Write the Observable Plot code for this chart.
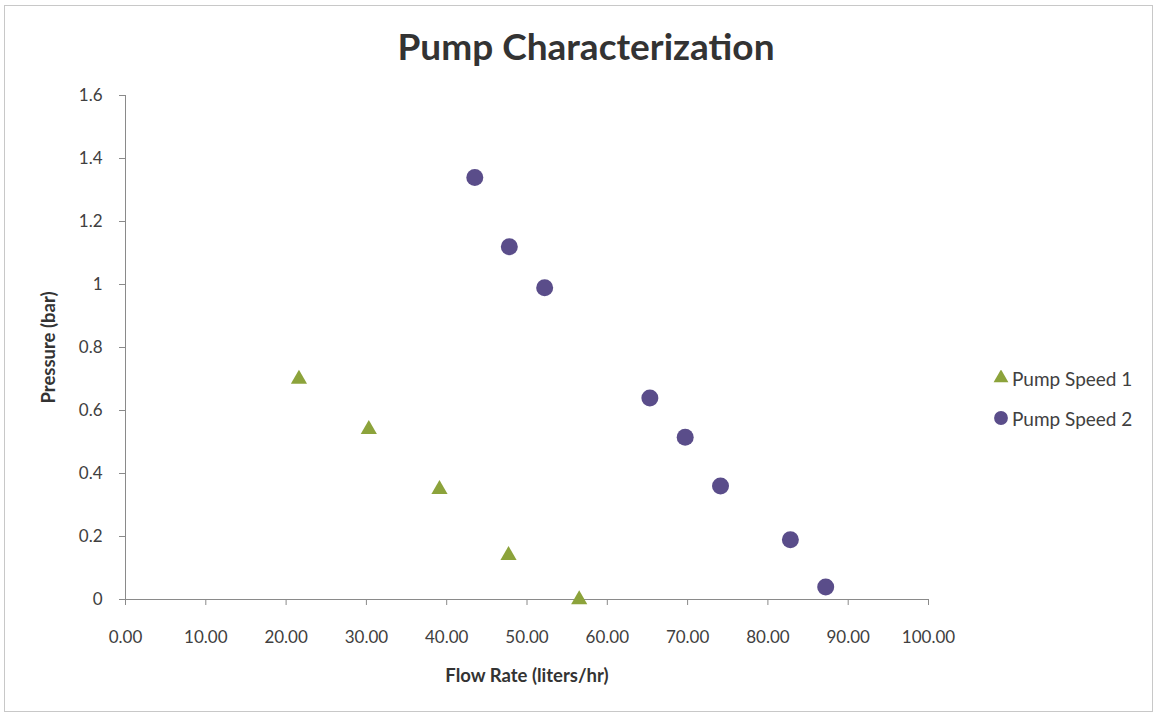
<!DOCTYPE html>
<html>
<head>
<meta charset="utf-8">
<script src="https://cdn.jsdelivr.net/npm/d3@7"></script>
<script src="https://cdn.jsdelivr.net/npm/@observablehq/plot@0.6"></script>
<style>
  html, body { margin: 0; padding: 0; background: #fff; }
  #chart {
    position: relative; width: 1157px; height: 715px; overflow: hidden;
    font-family: Lato, "Open Sans", sans-serif; color: #404040;
  }
  #frame {
    position: absolute; left: 4px; top: 5px; right: 4px; bottom: 3px;
    border: 1px solid #c8c8c8; pointer-events: none;
  }
  #title {
    position: absolute; left: 0; width: 1172px; top: 24px; text-align: center;
    font-size: 37px; font-weight: 700; color: #333; line-height: 1.2;
  }
  #legend { position: absolute; left: 993px; top: 366px; font-size: 19px; color: #404040; }
  #legend .item { display: flex; align-items: center; height: 24px; margin-bottom: 16px; }
  #legend svg { margin-right: 3px; }
</style>
</head>
<body>
<div id="chart">
  <div id="frame"></div>
  <div id="title">Pump Characterization</div>
  <div id="legend"></div>
</div>
<script>
// Flow rate (liters/hr) and pressure (bar) for the two pump speeds
const speed1Flow = [21.6, 30.3, 39.1, 47.7, 56.5];
const speed1Pressure = [0.70, 0.54, 0.35, 0.14, 0.0];
const speed2Flow = [43.5, 47.8, 52.2, 65.3, 69.7, 74.1, 82.8, 87.2];
const speed2Pressure = [1.34, 1.12, 0.99, 0.64, 0.515, 0.36, 0.19, 0.04];

const seriesNames = ["Pump Speed 1", "Pump Speed 2"];
const xTicks = [0, 10, 20, 30, 40, 50, 60, 70, 80, 90, 100];
const yTicks = [0, 0.2, 0.4, 0.6, 0.8, 1, 1.2, 1.4, 1.6];

const green = "#8ca33b";
const purple = "#5a4d8a";

const speed1 = speed1Flow.map((x, i) => ({x, y: speed1Pressure[i]}));
const speed2 = speed2Flow.map((x, i) => ({x, y: speed2Pressure[i]}));

const plot = Plot.plot({
  width: 1157,
  height: 715,
  marginLeft: 125,
  marginRight: 229,
  marginTop: 95,
  marginBottom: 116,
  style: {fontFamily: "Lato, 'Open Sans', sans-serif", fontSize: "17px", color: "#404040", background: "transparent"},
  x: {domain: [0, 100]},
  y: {domain: [0, 1.6]},
  marks: [
    Plot.axisY({
      ticks: yTicks, tickSize: 6, tickPadding: 17,
      tickFormat: d => String(+d.toFixed(1)),
      stroke: "#8a8a8a", fontSize: 17,
      label: "Pressure (bar)", labelAnchor: "center", labelArrow: "none", labelOffset: 84
    }),
    Plot.axisX({
      ticks: xTicks, tickSize: 6, tickPadding: 25,
      tickFormat: d3.format(".2f"),
      stroke: "#8a8a8a", fontSize: 17,
      label: "Flow Rate (liters/hr)", labelAnchor: "center", labelArrow: "none", labelOffset: 82
    }),
    Plot.ruleX([0], {stroke: "#8a8a8a"}),
    Plot.ruleY([0], {stroke: "#8a8a8a"}),
    Plot.dot(speed1, {x: "x", y: "y", symbol: "triangle", r: 6, fill: green}),
    Plot.dot(speed2, {x: "x", y: "y", symbol: "circle", r: 8.5, fill: purple})
  ]
});

// bold axis titles
d3.select(plot).selectAll("g[aria-label='y-axis label'] text, g[aria-label='x-axis label'] text")
  .style("font-weight", "700").style("font-size", "18.5px").style("fill", "#333");

const chart = document.getElementById("chart");
chart.insertBefore(plot, document.getElementById("frame"));
plot.style.position = "absolute";
plot.style.left = "0";
plot.style.top = "0";

// legend
const legend = d3.select("#legend");
const symbols = [
  {name: seriesNames[0], path: d3.symbol(d3.symbolTriangle, 95)(), fill: green},
  {name: seriesNames[1], path: d3.symbol(d3.symbolCircle, 150)(), fill: purple}
];
symbols.forEach(s => {
  const item = legend.append("div").attr("class", "item");
  const svg = item.append("svg").attr("width", 16).attr("height", 16);
  svg.append("path").attr("d", s.path).attr("transform", "translate(8,8)").attr("fill", s.fill);
  item.append("span").text(s.name);
});
</script>
</body>
</html>
